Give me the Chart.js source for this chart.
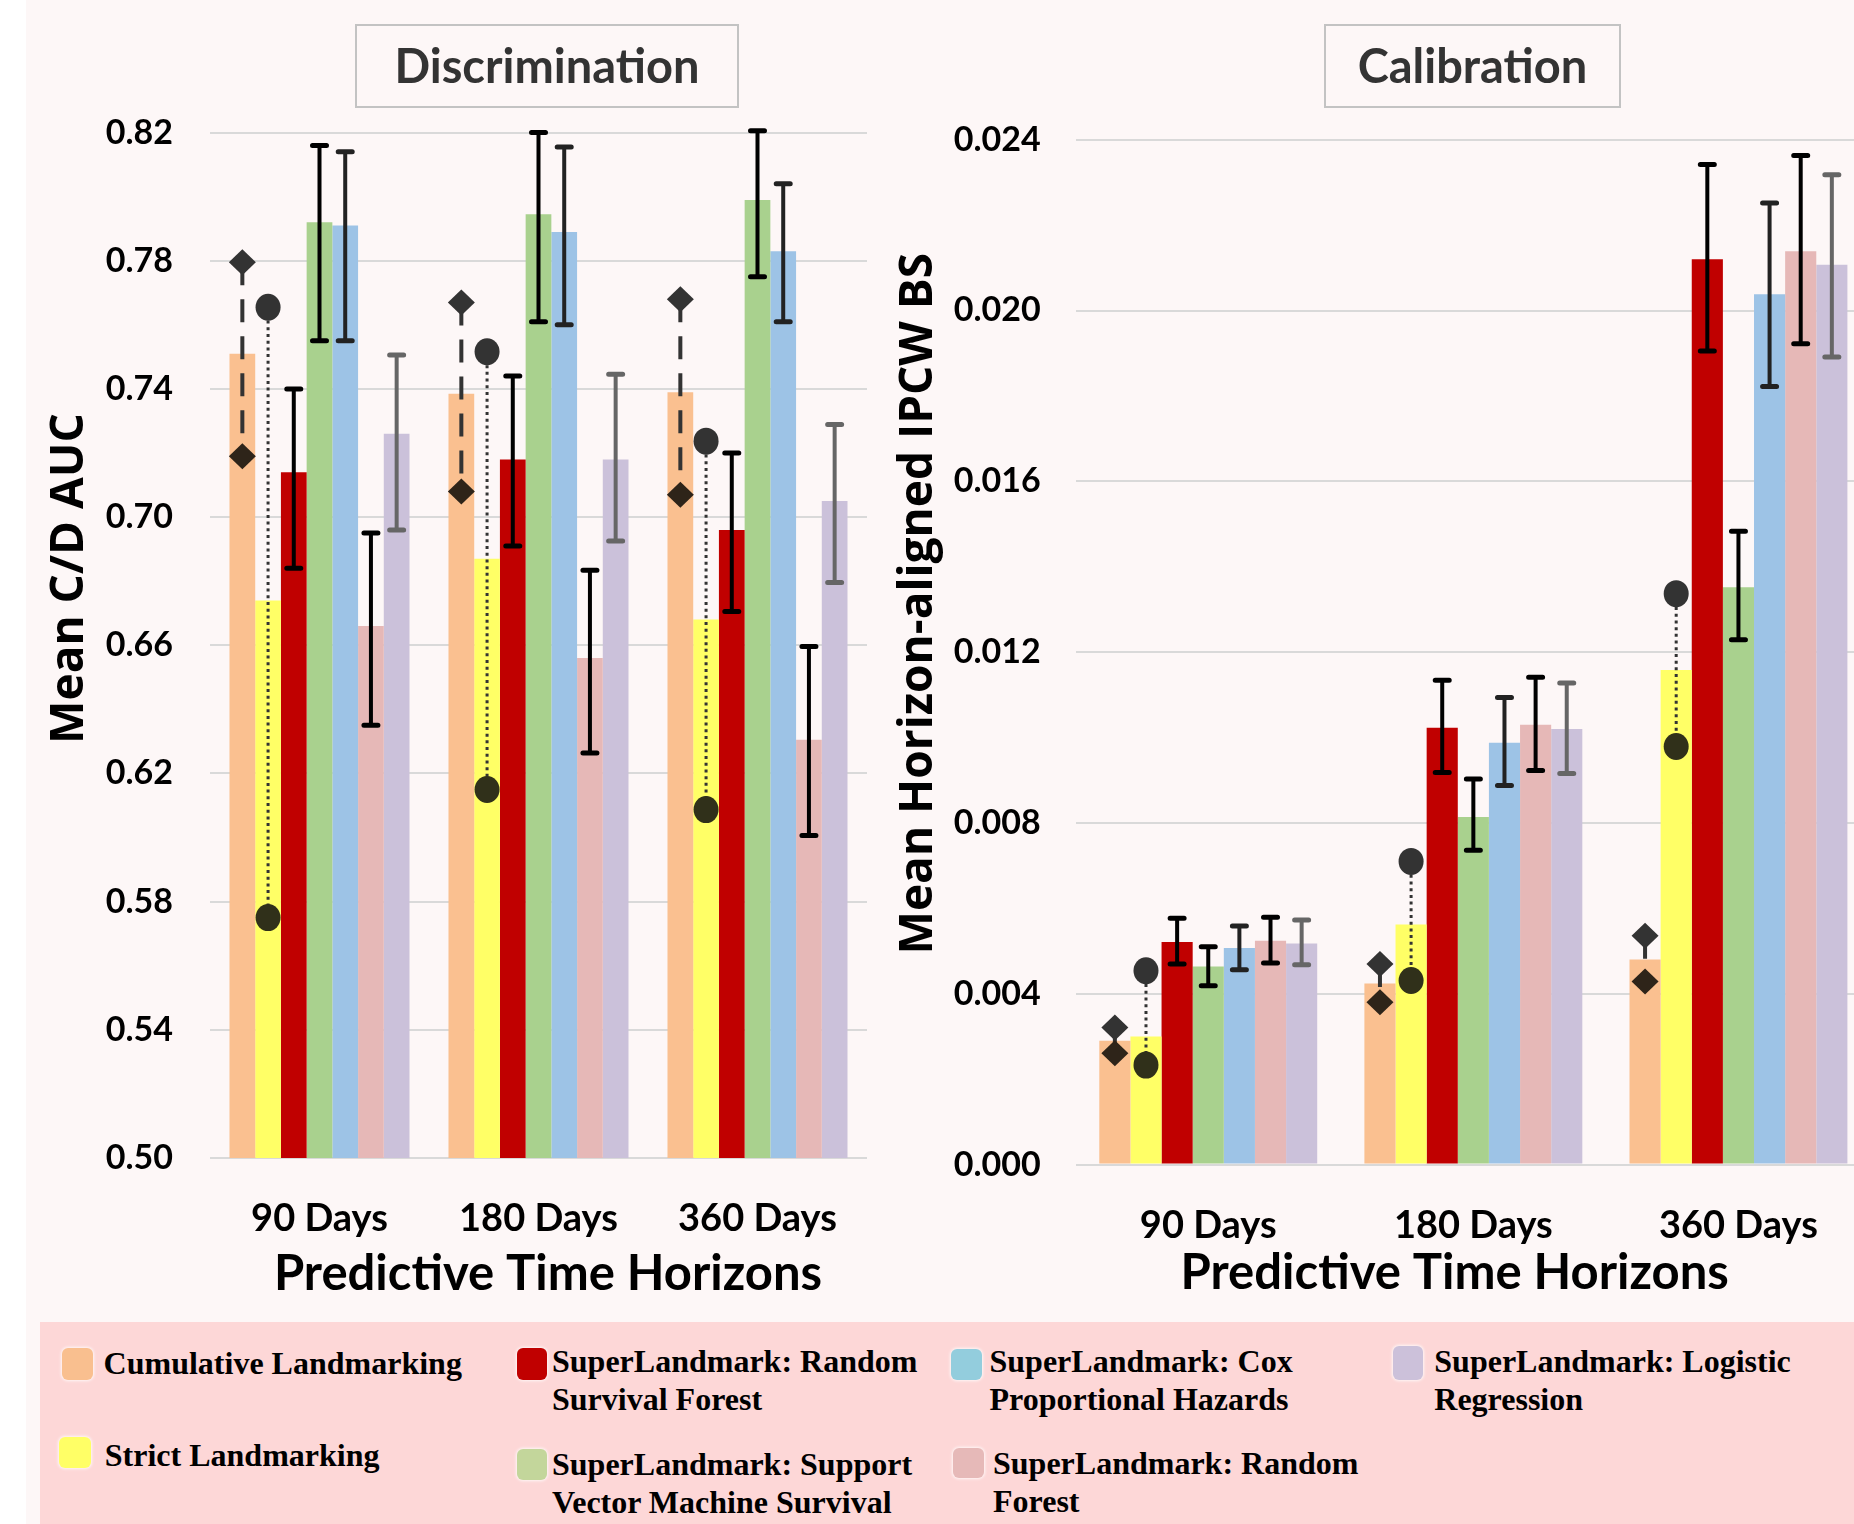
<!DOCTYPE html>
<html>
<head>
<meta charset="utf-8">
<script src="https://cdn.jsdelivr.net/npm/chart.js@4"></script>
<style>
  html, body { margin:0; padding:0; width:1854px; height:1524px; overflow:hidden; background:#ffffff; }
  #panel { position:absolute; left:26px; top:0; width:1828px; height:1524px; background:#fdf7f7; }
  #stage { position:absolute; left:0; top:0; width:1854px; height:1524px; overflow:hidden; }
  canvas { position:absolute; top:0; }
  .tbox { position:absolute; top:24px; height:84px; box-sizing:border-box; border:2px solid #c3c3c3;
          font-family:Lato, sans-serif; font-weight:bold; font-size:47px; line-height:78px; text-align:center; color:#333; }
  #legend { position:absolute; left:39.5px; top:1322px; width:1815px; height:202px; background:#fdd7d7; }
  .sw { position:absolute; border-radius:6px; box-shadow:0 0 3px 1px rgba(255,255,255,0.8); }
  .lt { position:absolute; width:380px; font-family:"Liberation Serif", "Times New Roman", serif; font-weight:bold;
        font-size:32px; line-height:38px; color:#000; }
</style>
</head>
<body>
<div id="panel"></div>
<div id="stage">
  <canvas id="c1" width="880" height="1310" style="left:0;width:880px;height:1310px"></canvas>
  <canvas id="c2" width="1001" height="1310" style="left:880px;width:1001px;height:1310px"></canvas>
  <div class="tbox" style="left:355px;width:384px">Discrimination</div>
  <div class="tbox" style="left:1324px;width:297px">Calibration</div>
  <div id="legend"></div>
</div>
<script>
// ---------------- data ----------------
const categories = ['90 Days', '180 Days', '360 Days'];
const seriesNames = [
  'Cumulative Landmarking',
  'Strict Landmarking',
  'SuperLandmark: Random Survival Forest',
  'SuperLandmark: Support Vector Machine Survival',
  'SuperLandmark: Cox Proportional Hazards',
  'SuperLandmark: Random Forest',
  'SuperLandmark: Logistic Regression'
];

// Discrimination (Mean C/D AUC)
const aucCumulative = [0.751, 0.7385, 0.739];
const aucStrict     = [0.674, 0.687, 0.668];
const aucRSF        = [0.714, 0.718, 0.696];
const aucSVM        = [0.792, 0.7945, 0.799];
const aucCox        = [0.791, 0.789, 0.783];
const aucRF         = [0.666, 0.656, 0.6305];
const aucLR         = [0.726, 0.718, 0.705];
const aucRSFLow  = [0.684, 0.691, 0.6705], aucRSFHigh = [0.740, 0.744, 0.720];
const aucSVMLow  = [0.755, 0.761, 0.775],  aucSVMHigh = [0.816, 0.820, 0.8206];
const aucCoxLow  = [0.755, 0.760, 0.761],  aucCoxHigh = [0.814, 0.8155, 0.804];
const aucRFLow   = [0.635, 0.6264, 0.6006], aucRFHigh = [0.695, 0.6834, 0.6596];
const aucLRLow   = [0.696, 0.6925, 0.6796], aucLRHigh = [0.7506, 0.7446, 0.7289];
const aucCumDiamondHigh = [0.7795, 0.767, 0.768];
const aucCumDiamondLow  = [0.719, 0.708, 0.707];
const aucStrictDotHigh  = [0.7655, 0.7516, 0.7237];
const aucStrictDotLow   = [0.575, 0.615, 0.6087];
const aucTicks = [0.50, 0.54, 0.58, 0.62, 0.66, 0.70, 0.74, 0.78, 0.82];

// Calibration (Mean Horizon-aligned IPCW BS)
const bsCumulative = [0.0029, 0.00424, 0.0048];
const bsStrict     = [0.0030, 0.00562, 0.01158];
const bsRSF        = [0.00521, 0.01023, 0.0212];
const bsSVM        = [0.00464, 0.00814, 0.01352];
const bsCox        = [0.00507, 0.00988, 0.02038];
const bsRF         = [0.00524, 0.0103, 0.02139];
const bsLR         = [0.00518, 0.0102, 0.02107];
const bsRSFLow = [0.0047, 0.00918, 0.01905],  bsRSFHigh = [0.00577, 0.01134, 0.02342];
const bsSVMLow = [0.00419, 0.00736, 0.01229], bsSVMHigh = [0.0051, 0.00903, 0.01483];
const bsCoxLow = [0.00456, 0.00888, 0.01822], bsCoxHigh = [0.00559, 0.01094, 0.02252];
const bsRFLow  = [0.00472, 0.00923, 0.01922], bsRFHigh  = [0.00579, 0.01141, 0.02363];
const bsLRLow  = [0.00468, 0.00916, 0.01891], bsLRHigh  = [0.00573, 0.01128, 0.02318];
const bsCumDiamondHigh = [0.00321, 0.0047, 0.00536];
const bsCumDiamondLow  = [0.00261, 0.0038, 0.00429];
const bsStrictDotHigh  = [0.00454, 0.0071, 0.01337];
const bsStrictDotLow   = [0.00233, 0.00431, 0.00979];
const bsTicks = [0.000, 0.004, 0.008, 0.012, 0.016, 0.020, 0.024];

// ---------------- styles ----------------
const barColors    = ['#fac090', '#ffff66', '#c00000', '#a9d18e', '#9dc3e6', '#e6b8b7', '#cbc1da'];
const legendColors = ['#f9bf8f', '#ffff66', '#c00000', '#c3d69b', '#93cddd', '#e6b9b8', '#ccc1da'];
const errColors    = [null, null, '#000000', '#000000', '#222222', '#000000', '#666666'];

Chart.defaults.font.family = 'Lato, sans-serif';

function makeOverlay(cfg) {
  return {
    id: 'overlay',
    afterDatasetsDraw(chart) {
      const ctx = chart.ctx, ys = chart.scales.y;
      // error bars
      cfg.errors.forEach((e, k) => {
        if (!e) return;
        const meta = chart.getDatasetMeta(k);
        meta.data.forEach((bar, j) => {
          const x = bar.x, yl = ys.getPixelForValue(e.lo[j]), yh = ys.getPixelForValue(e.hi[j]);
          ctx.save();
          ctx.strokeStyle = errColors[k];
          ctx.lineWidth = 4;
          ctx.beginPath(); ctx.moveTo(x, yh); ctx.lineTo(x, yl); ctx.stroke();
          ctx.lineWidth = 5; ctx.lineCap = 'round';
          ctx.beginPath();
          ctx.moveTo(x - 7, yh); ctx.lineTo(x + 7, yh);
          ctx.moveTo(x - 7, yl); ctx.lineTo(x + 7, yl);
          ctx.stroke();
          ctx.restore();
        });
      });
      // markers
      const m0 = chart.getDatasetMeta(0), m1 = chart.getDatasetMeta(1);
      for (let j = 0; j < categories.length; j++) {
        const xd = m0.data[j].x, xc = m1.data[j].x;
        const dh = ys.getPixelForValue(cfg.diamondHigh[j]), dl = ys.getPixelForValue(cfg.diamondLow[j]);
        const ch = ys.getPixelForValue(cfg.dotHigh[j]), cl = ys.getPixelForValue(cfg.dotLow[j]);
        ctx.save();
        ctx.strokeStyle = '#333333';
        ctx.lineWidth = 4; ctx.setLineDash([23, 14]);
        ctx.beginPath(); ctx.moveTo(xd, dh); ctx.lineTo(xd, dl); ctx.stroke();
        ctx.lineWidth = 3; ctx.setLineDash([3, 3.7]);
        ctx.beginPath(); ctx.moveTo(xc, ch); ctx.lineTo(xc, cl); ctx.stroke();
        ctx.setLineDash([]);
        const diamond = (x, y, col) => {
          ctx.fillStyle = col; ctx.beginPath();
          ctx.moveTo(x, y - 13); ctx.lineTo(x + 13.5, y); ctx.lineTo(x, y + 13); ctx.lineTo(x - 13.5, y);
          ctx.closePath(); ctx.fill();
        };
        const dot = (x, y, col) => {
          ctx.fillStyle = col; ctx.beginPath(); ctx.ellipse(x, y, 12.5, 13.5, 0, 0, Math.PI * 2); ctx.fill();
        };
        diamond(xd, dh, '#333333');
        diamond(xd, dl, '#2e2419');
        dot(xc, ch, '#333333');
        dot(xc, cl, '#30301a');
        ctx.restore();
      }
    },
    afterDraw(chart) {
      const ctx = chart.ctx, a = chart.chartArea;
      ctx.save();
      ctx.fillStyle = '#000';
      ctx.textAlign = 'center';
      ctx.textBaseline = 'alphabetic';
      ctx.font = 'bold 46px "Open Sans", sans-serif';
      ctx.translate(a.left + cfg.yTitleDx, a.top + cfg.yTitleDy);
      ctx.rotate(-Math.PI / 2);
      ctx.fillText(cfg.yTitle, 0, 0);
      ctx.restore();
      ctx.save();
      ctx.fillStyle = '#000';
      ctx.textAlign = 'center';
      ctx.textBaseline = 'alphabetic';
      ctx.font = 'bold 49px Lato, sans-serif';
      ctx.fillText(cfg.xTitle, a.left + cfg.xTitleDx, a.bottom + cfg.xTitleDy);
      ctx.restore();
    }
  };
}

function makeChart(id, values, cfg, ticks, decimals, L) {
  const datasets = seriesNames.map((n, i) => ({
    label: n, data: values[i], backgroundColor: barColors[i], borderWidth: 0,
    categoryPercentage: 0.822, barPercentage: 1.0
  }));
  return new Chart(document.getElementById(id), {
    type: 'bar',
    data: { labels: categories, datasets },
    options: {
      responsive: false, animation: false,
      layout: { padding: { left: 0, top: L.top, right: L.right, bottom: 0 } },
      plugins: { legend: { display: false }, tooltip: { enabled: false }, title: { display: false } },
      scales: {
        x: {
          grid: { display: false }, border: { display: false },
          ticks: { color: '#000', font: { size: 38, weight: 'bold' }, padding: 30, maxRotation: 0 },
          afterFit(s) { s.height = L.xh; }
        },
        y: {
          min: ticks[0], max: ticks[ticks.length - 1],
          grid: { color: '#d9d9d9', lineWidth: 2, drawTicks: false },
          border: { display: false },
          ticks: { color: '#000', font: { size: 34, weight: 'bold' }, padding: L.tp, autoSkip: false,
                   callback: v => Number(v).toFixed(decimals) },
          afterBuildTicks(s) { s.ticks = ticks.map(v => ({ value: v })); },
          afterFit(s) { s.width = L.yw; }
        }
      }
    },
    plugins: [makeOverlay(cfg)]
  });
}

makeChart('c1',
  [aucCumulative, aucStrict, aucRSF, aucSVM, aucCox, aucRF, aucLR],
  {
    errors: [null, null,
      { lo: aucRSFLow, hi: aucRSFHigh }, { lo: aucSVMLow, hi: aucSVMHigh }, { lo: aucCoxLow, hi: aucCoxHigh },
      { lo: aucRFLow, hi: aucRFHigh }, { lo: aucLRLow, hi: aucLRHigh }],
    diamondHigh: aucCumDiamondHigh, diamondLow: aucCumDiamondLow,
    dotHigh: aucStrictDotHigh, dotLow: aucStrictDotLow,
    yTitle: 'Mean C/D AUC', yTitleDx: -127, yTitleDy: 446,
    xTitle: 'Predictive Time Horizons', xTitleDx: 338, xTitleDy: 132
  },
  aucTicks, 2,
  { top: 132.6, right: 13, xh: 152.1, yw: 210, tp: 37 });

makeChart('c2',
  [bsCumulative, bsStrict, bsRSF, bsSVM, bsCox, bsRF, bsLR],
  {
    errors: [null, null,
      { lo: bsRSFLow, hi: bsRSFHigh }, { lo: bsSVMLow, hi: bsSVMHigh }, { lo: bsCoxLow, hi: bsCoxHigh },
      { lo: bsRFLow, hi: bsRFHigh }, { lo: bsLRLow, hi: bsLRHigh }],
    diamondHigh: bsCumDiamondHigh, diamondLow: bsCumDiamondLow,
    dotHigh: bsStrictDotHigh, dotLow: bsStrictDotLow,
    yTitle: 'Mean Horizon-aligned IPCW BS', yTitleDx: -144, yTitleDy: 464,
    xTitle: 'Predictive Time Horizons', xTitleDx: 379, xTitleDy: 124
  },
  bsTicks, 3,
  { top: 139.7, right: 10, xh: 145.4, yw: 195.7, tp: 35 });

// ---------------- legend (HTML) ----------------
const legendLayout = [
  { sw: [61.5, 1348, 31, 32], tx: [103.6, 1344] },
  { sw: [59, 1437, 32, 31],   tx: [104.8, 1436] },
  { sw: [516.7, 1348, 30, 32], tx: [552, 1342] },
  { sw: [516.7, 1449, 30, 31], tx: [552, 1445] },
  { sw: [950.7, 1349, 31, 31], tx: [989.5, 1342] },
  { sw: [953, 1448, 31, 30],   tx: [993, 1443.7] },
  { sw: [1393, 1346, 30, 34],  tx: [1434.3, 1342] }
];
const legend = document.getElementById('legend');
const ox = 39.5, oy = 1322;
seriesNames.forEach((name, i) => {
  const L = legendLayout[i];
  const s = document.createElement('div');
  s.className = 'sw';
  s.style.cssText = `left:${L.sw[0]-ox}px;top:${L.sw[1]-oy}px;width:${L.sw[2]}px;height:${L.sw[3]}px;background:${legendColors[i]}`;
  legend.appendChild(s);
  const t = document.createElement('div');
  t.className = 'lt';
  t.style.left = (L.tx[0] - ox) + 'px';
  t.style.top = (L.tx[1] - oy) + 'px';
  t.textContent = name;
  legend.appendChild(t);
});
</script>
</body>
</html>
